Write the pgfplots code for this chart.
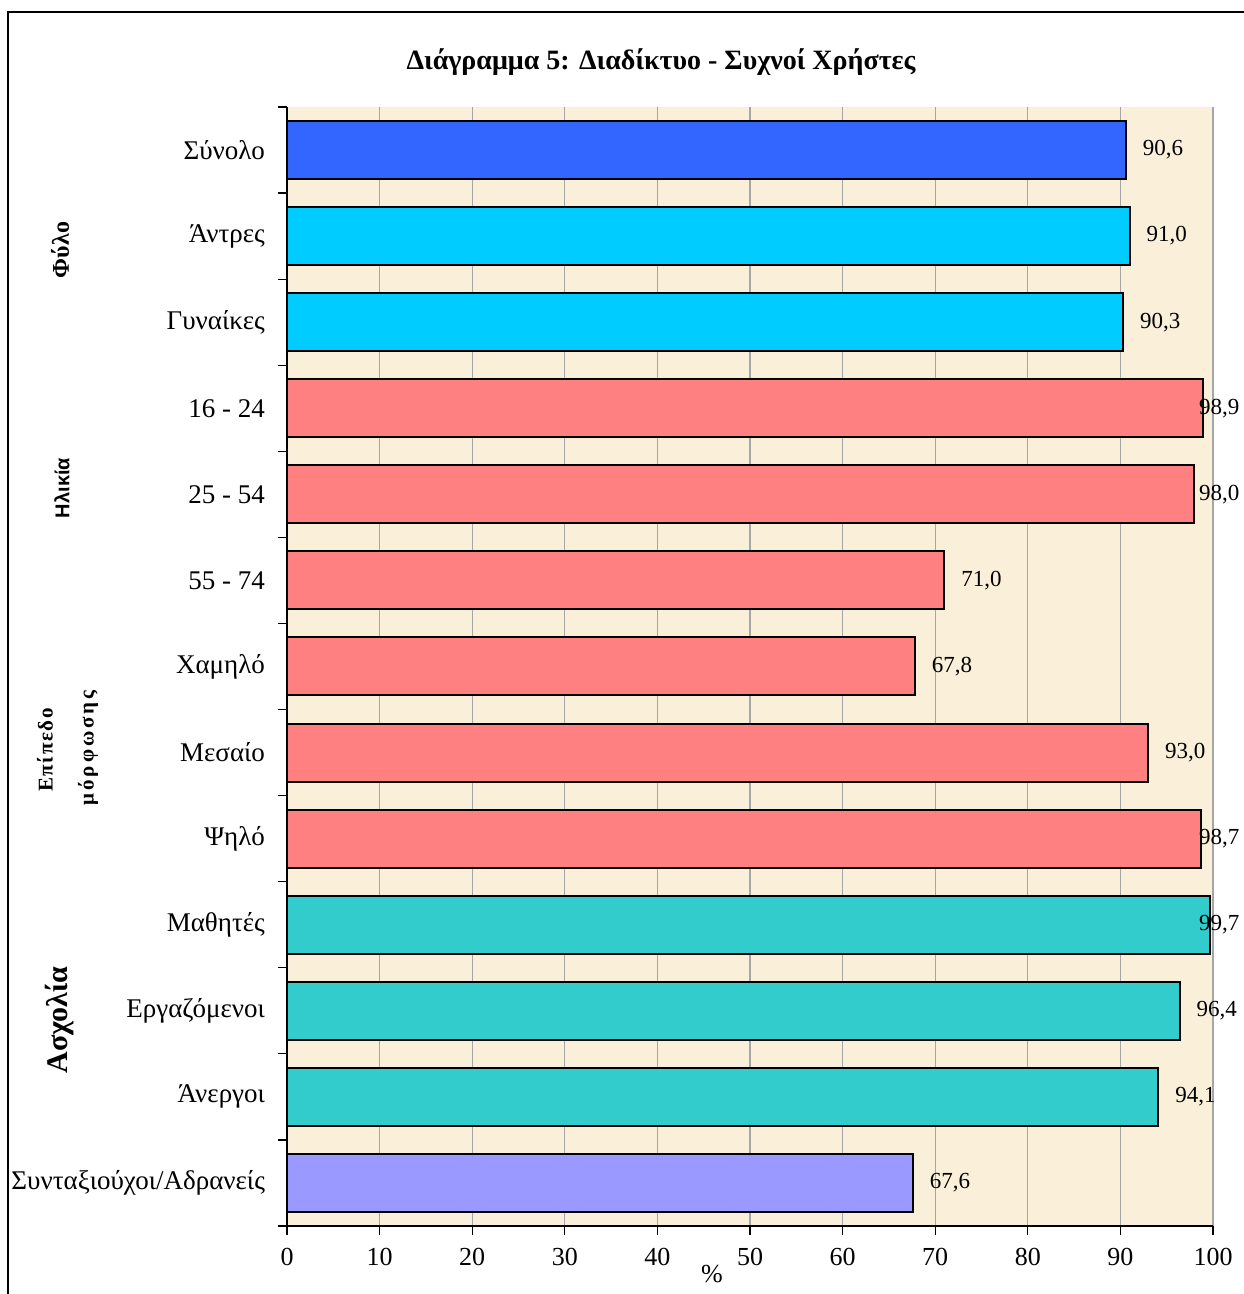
\documentclass[border=0pt]{standalone}
\usepackage{fontspec}
\setmainfont{Liberation Serif}
\newfontfamily\sansb{Liberation Sans}
\usepackage{pgfplots}
\pgfplotsset{compat=1.18}
\definecolor{cTotal}{HTML}{3366FF}
\definecolor{cSex}{HTML}{00CCFF}
\definecolor{cSalmon}{HTML}{FF8080}
\definecolor{cTeal}{HTML}{33CCCC}
\definecolor{cLav}{HTML}{9999FF}
\definecolor{parch}{HTML}{FAEFD8}
\begin{document}
\begin{tikzpicture}
\useasboundingbox (0,0) rectangle (621.5pt,647pt);
\draw[black, line width=0.6pt] (4pt,-10pt) rectangle (640pt,641pt);
\node[font=\bfseries\fontsize{14}{16}\selectfont] at (330.5pt,616pt) {Διάγραμμα 5: Διαδίκτυο - Συχνοί Χρήστες};
\begin{axis}[
  at={(143.5pt,34pt)}, anchor=south west,
  scale only axis, width=463pt, height=559.5pt,
  xmin=0, xmax=100, ymin=-0.5, ymax=12.5,
  axis background/.style={fill=parch},
  axis lines=left,
  axis line style={-, black, line width=1pt},
  xmajorgrids, grid style={gray!70, line width=0.6pt},
  xtick={0,10,...,100},
  minor xtick={0,10,...,100},
  ytick={0,...,12},
  minor ytick={-0.5,0.5,...,12.5},
  major tick length=0pt, minor tick length=4.5pt,
  tick align=outside,
  minor tick style={black, line width=0.6pt},
  yticklabels={Συνταξιούχοι/Αδρανείς, Άνεργοι, Εργαζόμενοι, Μαθητές, Ψηλό, Μεσαίο, Χαμηλό, 55 - 74, 25 - 54, 16 - 24, Γυναίκες, Άντρες, Σύνολο},
  yticklabel style={font=\fontsize{13.5}{15}\selectfont, xshift=-7.5pt},
  xticklabel style={font=\fontsize{13}{15}\selectfont, yshift=-7.5pt},
  /pgf/number format/assume math mode=true,
  xbar, bar width=29pt, bar shift=0pt,
  clip=false,
  visualization depends on=x \as \rawx,
  nodes near coords={\pgfmathprintnumber[fixed, fixed zerofill, precision=1, use comma, assume math mode=true]{\pgfplotspointmeta}},
  every node near coord/.append style={font=\fontsize{11.5}{13}\selectfont, anchor=west, inner sep=0pt,
    xshift={min(8,455.5-4.63*\rawx)*1pt}},
]
\addplot[draw=black, line width=1pt, fill=cTotal] coordinates {(90.6,12)};
\addplot[draw=black, line width=1pt, fill=cSex] coordinates {(91.0,11) (90.3,10)};
\addplot[draw=black, line width=1pt, fill=cSalmon] coordinates {(98.9,9) (98.0,8) (71.0,7) (67.8,6) (93.0,5) (98.7,4)};
\addplot[draw=black, line width=1pt, fill=cTeal] coordinates {(99.7,3) (96.4,2) (94.1,1)};
\addplot[draw=black, line width=1pt, fill=cLav] coordinates {(67.6,0)};
\end{axis}
\node[font=\fontsize{13}{15}\selectfont] at (356pt,10pt) {\%};
\node[rotate=90, font=\bfseries\fontsize{12}{14}\selectfont] at (30pt,522pt) {Φύλο};
\node[rotate=90, font=\sansb\bfseries\fontsize{10}{12}\selectfont] at (31pt,403pt) {Ηλικία};
\node[rotate=90, font=\bfseries\fontsize{10.5}{12}\selectfont\addfontfeatures{LetterSpace=8}] at (22.5pt,272pt) {Επίπεδο};
\node[rotate=90, font=\bfseries\fontsize{10.5}{12}\selectfont\addfontfeatures{LetterSpace=14}] at (44pt,273pt) {μόρφωσης};
\node[rotate=90, font=\bfseries\fontsize{15}{17}\selectfont] at (30pt,137pt) {Ασχολία};
\end{tikzpicture}
\end{document}
